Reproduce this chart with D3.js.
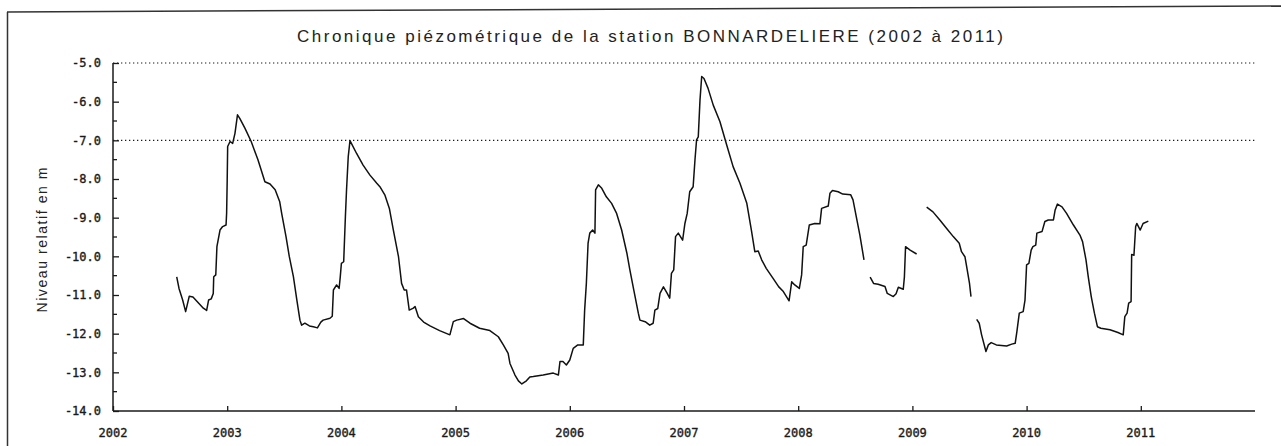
<!DOCTYPE html>
<html>
<head>
<meta charset="utf-8">
<script src="https://cdn.jsdelivr.net/npm/d3@7"></script>
<style>
  html, body { margin: 0; padding: 0; background: #fff; }
  svg { display: block; }
</style>
</head>
<body>
<svg id="chart" width="1281" height="446"></svg>
<script>
const title = "Chronique piézométrique de la station BONNARDELIERE (2002 à 2011)";
const yTitle = "Niveau relatif en m";
const yearTicks = [2002, 2003, 2004, 2005, 2006, 2007, 2008, 2009, 2010, 2011];
const levelTicks = [-5, -6, -7, -8, -9, -10, -11, -12, -13, -14];
const refLevels = [-5, -7];

// decimal year, level (m); null level = gap in the record
const dates = [
  2002.558, 2002.578, 2002.61, 2002.636, 2002.668, 2002.70, 2002.791, 2002.82, 2002.837, 2002.86,
  2002.878, 2002.882, 2002.90, 2002.91, 2002.937, 2002.96, 2002.99, 2002.995, 2003.0, 2003.004,
  2003.025, 2003.048, 2003.068, 2003.09, 2003.11, 2003.156, 2003.21, 2003.27, 2003.33, 2003.375,
  2003.42, 2003.46, 2003.477, 2003.515, 2003.544, 2003.58, 2003.61, 2003.637, 2003.652, 2003.68,
  2003.72, 2003.754, 2003.79, 2003.82, 2003.84, 2003.9, 2003.92, 2003.93, 2003.958, 2003.98,
  2003.99, 2004.0, 2004.02, 2004.035, 2004.045, 2004.06, 2004.075, 2004.133, 2004.19, 2004.25,
  2004.31, 2004.337, 2004.38, 2004.42, 2004.455, 2004.50, 2004.527, 2004.55, 2004.57, 2004.594,
  2004.63, 2004.645, 2004.674, 2004.72, 2004.776, 2004.86, 2004.95, 2004.98, 2005.01, 2005.07,
  2005.126, 2005.21, 2005.30, 2005.374, 2005.418, 2005.46, 2005.476, 2005.52, 2005.55, 2005.58,
  2005.62, 2005.65, 2005.68, 2005.767, 2005.855, 2005.90, 2005.914, 2005.94, 2005.97, 2006.0,
  2006.03, 2006.07, 2006.118, 2006.13, 2006.145, 2006.16, 2006.175, 2006.2, 2006.22, 2006.226,
  2006.25, 2006.28, 2006.32, 2006.366, 2006.41, 2006.454, 2006.50, 2006.526, 2006.56, 2006.60,
  2006.614, 2006.66, 2006.70, 2006.73, 2006.745, 2006.77, 2006.79, 2006.82, 2006.853, 2006.875,
  2006.89, 2006.91, 2006.926, 2006.95, 2006.988, 2007.008, 2007.028, 2007.05, 2007.08, 2007.096,
  2007.11, 2007.125, 2007.14, 2007.155, 2007.175, 2007.21, 2007.256, 2007.315, 2007.37, 2007.43,
  2007.49, 2007.55, 2007.59, 2007.62, 2007.65, 2007.68, 2007.72, 2007.78, 2007.83, 2007.87,
  2007.92, 2007.943, 2007.97, 2008.01, 2008.03, 2008.044, 2008.07, 2008.097, 2008.145, 2008.19,
  2008.205, 2008.263, 2008.278, 2008.30, 2008.35, 2008.39, 2008.46, 2008.48, 2008.517, 2008.54,
  2008.576, 2008.60,
  2008.63, 2008.66, 2008.70, 2008.76, 2008.78, 2008.833, 2008.857, 2008.877, 2008.92, 2008.93,
  2008.94, 2008.98, 2009.037, 2009.08,
  2009.125, 2009.18, 2009.24, 2009.30, 2009.358, 2009.41, 2009.43, 2009.46, 2009.48, 2009.50,
  2009.513, 2009.54,
  2009.563, 2009.585, 2009.606, 2009.644, 2009.665, 2009.69, 2009.735, 2009.825, 2009.87, 2009.90,
  2009.915, 2009.936, 2009.97, 2009.986, 2010.0, 2010.02, 2010.04, 2010.055, 2010.08, 2010.09,
  2010.135, 2010.16, 2010.19, 2010.235, 2010.25, 2010.27, 2010.31, 2010.35, 2010.41, 2010.467,
  2010.49, 2010.52, 2010.54, 2010.566, 2010.594, 2010.62, 2010.65, 2010.73, 2010.80, 2010.846,
  2010.86, 2010.88, 2010.894, 2010.915, 2010.92, 2010.94, 2010.955, 2010.965, 2010.995, 2011.02,
  2011.066
];
const levels = [
  -10.53, -10.83, -11.13, -11.43, -11.03, -11.05, -11.34, -11.40, -11.13, -11.10,
  -10.96, -10.53, -10.48, -9.75, -9.32, -9.23, -9.19, -8.88, -8.03, -7.16,
  -7.03, -7.08, -6.82, -6.34, -6.43, -6.69, -7.03, -7.51, -8.07, -8.13,
  -8.28, -8.59, -8.89, -9.49, -10.01, -10.53, -11.13, -11.65, -11.78, -11.73,
  -11.80, -11.82, -11.85, -11.70, -11.65, -11.60, -11.55, -10.87, -10.74, -10.83,
  -10.53, -10.18, -10.14, -8.97, -8.28, -7.42, -7.01, -7.34, -7.64, -7.90,
  -8.11, -8.20, -8.41, -8.76, -9.32, -10.01, -10.70, -10.87, -10.87, -11.39,
  -11.34, -11.30, -11.56, -11.70, -11.80, -11.92, -12.03, -11.69, -11.65, -11.61,
  -11.73, -11.86, -11.92, -12.08, -12.29, -12.51, -12.77, -13.07, -13.22, -13.30,
  -13.22, -13.12, -13.11, -13.07, -13.02, -13.07, -12.72, -12.72, -12.81, -12.68,
  -12.38, -12.29, -12.29, -11.39, -10.70, -9.66, -9.40, -9.32, -9.40, -8.28,
  -8.15, -8.24, -8.46, -8.63, -8.89, -9.32, -9.92, -10.35, -10.87, -11.47,
  -11.65, -11.69, -11.78, -11.73, -11.39, -11.35, -10.96, -10.79, -10.96, -11.08,
  -10.44, -10.35, -9.49, -9.40, -9.58, -9.15, -8.89, -8.33, -8.20, -7.51,
  -6.99, -6.91, -5.96, -5.35, -5.40, -5.65, -6.09, -6.52, -7.08, -7.68,
  -8.11, -8.63, -9.32, -9.88, -9.86, -10.09, -10.31, -10.57, -10.79, -10.91,
  -11.15, -10.66, -10.74, -10.83, -10.48, -9.75, -9.71, -9.19, -9.15, -9.16,
  -8.76, -8.70, -8.37, -8.30, -8.33, -8.39, -8.41, -8.54, -9.10, -9.45,
  -10.09, null,
  -10.54, -10.70, -10.72, -10.78, -10.96, -11.04, -10.97, -10.80, -10.85, -10.53,
  -9.75, -9.84, -9.94, null,
  -8.73, -8.85, -9.06, -9.28, -9.49, -9.66, -9.88, -10.01, -10.35, -10.70,
  -11.04, null,
  -11.63, -11.73, -12.03, -12.46, -12.29, -12.23, -12.29, -12.32, -12.27, -12.25,
  -11.95, -11.47, -11.43, -11.13, -10.22, -10.18, -9.84, -9.75, -9.71, -9.40,
  -9.36, -9.10, -9.06, -9.06, -8.80, -8.65, -8.72, -8.89, -9.19, -9.45,
  -9.62, -10.09, -10.53, -11.04, -11.47, -11.82, -11.86, -11.90, -11.97, -12.03,
  -11.56, -11.47, -11.21, -11.17, -9.95, -9.97, -9.23, -9.15, -9.32, -9.15,
  -9.09
];

const svg = d3.select("#chart");
const ink = "#1a1a1a";

const x = d3.scaleLinear().domain([2002, 2012]).range([113, 1255]);
const y = d3.scaleLinear().domain([-5, -14]).range([63, 411]);

// page frame (scanned sheet border)
svg.append("line").attr("x1", 7.5).attr("y1", 12).attr("x2", 7.5).attr("y2", 446)
  .attr("stroke", "#333").attr("stroke-width", 1.5);
svg.append("line").attr("x1", 7).attr("y1", 12).attr("x2", 1281).attr("y2", 6)
  .attr("stroke", "#333").attr("stroke-width", 1.5);

// title
svg.append("text")
  .attr("x", 650).attr("y", 42)
  .attr("text-anchor", "middle")
  .attr("font-family", "Liberation Sans, Arial, sans-serif")
  .attr("font-size", 17)
  .attr("fill", "#222")
  .attr("textLength", 706).attr("lengthAdjust", "spacing")
  .text(title);

// y axis title
svg.append("text")
  .attr("transform", "translate(47,240) rotate(-90)")
  .attr("text-anchor", "middle")
  .attr("font-family", "Liberation Sans, Arial, sans-serif")
  .attr("font-size", 14)
  .attr("fill", "#222")
  .attr("textLength", 145).attr("lengthAdjust", "spacing")
  .text(yTitle);

// dotted reference lines
svg.append("g").selectAll("line").data(refLevels).join("line")
  .attr("x1", x(2002)).attr("x2", x(2012))
  .attr("y1", d => y(d)).attr("y2", d => y(d))
  .attr("stroke", ink).attr("stroke-width", 1.2)
  .attr("stroke-dasharray", "1.3,2.7");

// y axis (ticks inside, to the right)
const yAxis = d3.axisRight(y)
  .tickValues(levelTicks)
  .tickSize(6)
  .tickFormat("");
const gy = svg.append("g").attr("transform", `translate(${x(2002)},0)`).call(yAxis);
gy.select(".domain").attr("d", `M0,${y(-5)}V${y(-14)}`).attr("stroke", ink).attr("stroke-width", 1.5);
gy.selectAll(".tick line").attr("stroke", ink).attr("stroke-width", 1.3);
// minor half ticks
const minor = d3.range(-5.5, -14, -1);
gy.append("g").selectAll("line").data(minor).join("line")
  .attr("x1", 0).attr("x2", 4).attr("y1", d => y(d)).attr("y2", d => y(d))
  .attr("stroke", ink).attr("stroke-width", 1.3);
// y tick labels
svg.append("g").selectAll("text").data(levelTicks).join("text")
  .attr("x", 101).attr("y", d => y(d)).attr("dy", "0.36em")
  .attr("text-anchor", "end")
  .attr("font-family", "DejaVu Sans Mono, monospace")
  .attr("font-size", 12)
  .attr("fill", ink)
  .attr("stroke", ink).attr("stroke-width", 0.35)
  .text(d => d3.format(".1f")(d).replace("−", "-"));

// x axis (ticks up)
const xAxis = d3.axisBottom(x).tickValues(yearTicks).tickSize(-5).tickFormat("");
const gx = svg.append("g").attr("transform", `translate(0,${y(-14)})`).call(xAxis);
gx.select(".domain").attr("d", `M${x(2002)},0H${x(2012)}`).attr("stroke", ink).attr("stroke-width", 1.5);
gx.selectAll(".tick line").attr("stroke", ink).attr("stroke-width", 1.3);
svg.append("g").selectAll("text").data(yearTicks).join("text")
  .attr("x", d => x(d)).attr("y", y(-14) + 26)
  .attr("text-anchor", "middle")
  .attr("font-family", "DejaVu Sans Mono, monospace")
  .attr("font-size", 12)
  .attr("fill", ink)
  .attr("stroke", ink).attr("stroke-width", 0.35)
  .text(d => d);

// series
const pts = dates.map((d, i) => ({ t: d, v: levels[i] }));
const line = d3.line()
  .defined(d => d.v !== null)
  .x(d => x(d.t))
  .y(d => y(d.v));
svg.append("path")
  .datum(pts)
  .attr("d", line)
  .attr("fill", "none")
  .attr("stroke", "#111")
  .attr("stroke-width", 1.5)
  .attr("stroke-linejoin", "round");
</script>
</body>
</html>
